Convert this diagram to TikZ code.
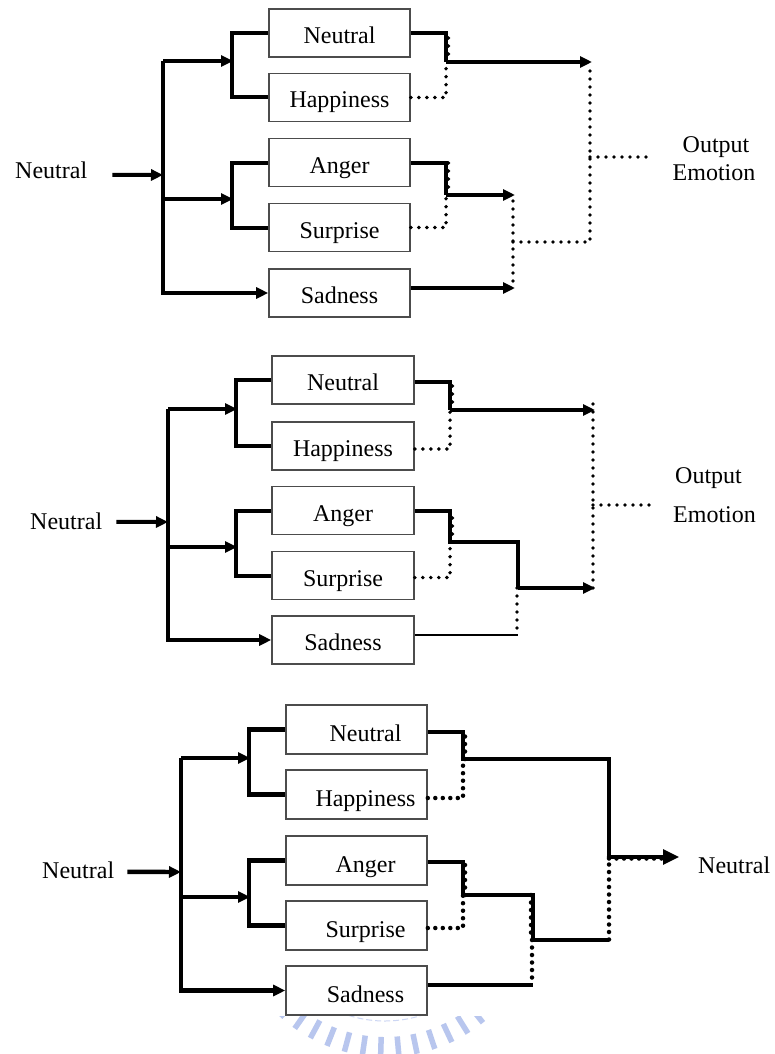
\documentclass[tikz,border=0pt]{standalone}
\usepackage{fontspec}
\setmainfont{Liberation Serif}
\usetikzlibrary{arrows.meta}
\definecolor{sealblue}{RGB}{112,140,222}
\begin{document}
\begin{tikzpicture}[x=1pt,y=-1pt,
  font=\fontsize{24}{28}\selectfont,
  emobox/.style={draw=black!70, line width=1.6pt, fill=white, minimum width=141pt,
    minimum height=48pt, inner sep=0pt, text height=21pt, text depth=0pt},
  emoboxc/.style={emobox, minimum height=49pt, text height=23pt,
    execute at begin node=\hspace*{18pt}},
  lbl/.style={inner sep=0pt},
  wire/.style={line width=4pt},
  wirethin/.style={line width=2.8pt},
  wirec/.style={line width=4.4pt},
  wirecthin/.style={line width=3.2pt},
  arr/.style={-{Triangle[length=12pt,width=11pt]}},
  arrbig/.style={-{Triangle[length=16pt,width=15pt]}},
  dotline/.style={line width=3.9pt, line cap=round, dash pattern=on 0pt off 8pt},
  dotlinec/.style={line width=4.5pt, line cap=round, dash pattern=on 0pt off 7.5pt},
]
\useasboundingbox (0,0) rectangle (774,1054);
\fill[white] (0,0) rectangle (774,1054);

% faint seal below the last diagram
\begin{scope}
  \clip (262,1016) rectangle (520,1054);
  \foreach \a in {38,44.7,...,142}
    \draw[sealblue!50, line width=5.5pt] (385,900) ++(\a:137) -- ++(\a:20);
  \draw[sealblue!35, line width=1pt, dash pattern=on 6pt off 3pt] (385,900) ++(62:121) arc[start angle=62,end angle=118,radius=121];
\end{scope}

% ================= first chain =================
\node[emobox] (n1) at (339.5,33) {Neutral};
\node[emobox] (h1) at (339.5,97.5) {Happiness};
\node[emobox] (a1) at (339.5,162.5) {Anger};
\node[emobox] (u1) at (339.5,227.5) {Surprise};
\node[emobox] (s1) at (339.5,293) {Sadness};
\node[lbl,anchor=base west] (i1) at (15,178) {Neutral};
\node[lbl,anchor=base] (oa1) at (716,152) {Output};
\node[lbl,anchor=base] (ob1) at (714,180) {Emotion};

\coordinate (e1) at (163,175);
\coordinate (p1) at (163,61);
\coordinate (q1) at (163,199);
\coordinate (k1) at (233,61);
\coordinate (m1) at (233,199);
\coordinate (c1) at (446,62);
\coordinate (o1) at (592,62);
\coordinate (d1) at (446,195);
\coordinate (f1) at (515,195);
\coordinate (g1) at (515,288);
\coordinate (r1) at (513,242);
\coordinate (t1) at (590,242);
\coordinate (v1) at (590,157);
\coordinate (w1) at (650,157);

\draw[wire,arr] ([xshift=25pt,yshift=-5pt]i1.east) -- (e1);
\draw[wire,arr] (p1) |- (s1.west);
\draw[wire,arr] (p1) -- (k1);
\draw[wire,arr] (q1) -- (m1);
\draw[wire] (n1.west) -- ++(-36,0) |- (h1.west);
\draw[wire] (a1.west) -- ++(-36,0) |- (u1.west);

\draw[wire] (n1.east) -| (c1);
\draw[wire,arr] (c1) -- (o1);
\draw[dotline] (h1.east) -| (c1);
\draw[dotline] ([xshift=2.5pt]c1) -- ([xshift=2.5pt]c1 |- n1.east);
\draw[wire] (a1.east) -| (d1);
\draw[wire,arr] (d1) -- (f1);
\draw[dotline] (u1.east) -| (d1);
\draw[dotline] ([xshift=2.5pt]d1) -- ([xshift=2.5pt]d1 |- a1.east);
\draw[wire,arr] ([yshift=5pt]s1.east) -- (g1);
\draw[dotline] ([xshift=-2pt,yshift=-6pt]f1) -- ([xshift=-2pt]g1);
\draw[dotline] (r1) -- (t1) -- ([xshift=-2pt,yshift=-6pt]o1);
\draw[dotline] (v1) -- (w1);

% ================= second chain =================
\node[emobox, minimum width=142pt] (n2) at (343,380) {Neutral};
\node[emobox, minimum width=142pt] (h2) at (343,446) {Happiness};
\node[emobox, minimum width=142pt] (a2) at (343,510.5) {Anger};
\node[emobox, minimum width=142pt] (u2) at (343,575.5) {Surprise};
\node[emobox, minimum width=142pt] (s2) at (343,640) {Sadness};
\node[lbl,anchor=base west] (i2) at (30,529) {Neutral};
\node[lbl,anchor=base west] (oa2) at (675,483) {Output};
\node[lbl,anchor=base west] (ob2) at (673,522) {Emotion};

\coordinate (e2) at (168,522);
\coordinate (p2) at (168,409);
\coordinate (q2) at (168,547);
\coordinate (k2) at (237,409);
\coordinate (m2) at (237,547);
\coordinate (c2) at (450,410);
\coordinate (o2) at (595,410);
\coordinate (d2) at (450,542);
\coordinate (x2) at (518,542);
\coordinate (y2) at (518,588);
\coordinate (f2) at (595,588);
\coordinate (g2) at (518,635);
\coordinate (v2) at (593,505);
\coordinate (w2) at (655,505);

\draw[wire,arr] ([xshift=14pt,yshift=-1pt]i2.east) -- (e2);
\draw[wire,arr] (p2) |- (s2.west);
\draw[wire,arr] (p2) -- (k2);
\draw[wire,arr] (q2) -- (m2);
\draw[wire] (n2.west) -- ++(-35,0) |- (h2.west);
\draw[wire] (a2.west) -- ++(-35,0) |- (u2.west);

\draw[wire] ([yshift=-2pt]n2.east) -| (c2);
\draw[wire,arr] (c2) -- (o2);
\draw[dotline] ([yshift=-3pt]h2.east) -| (c2);
\draw[dotline] ([xshift=2.5pt]c2) -- ([xshift=2.5pt,yshift=-2pt]c2 |- n2.east);
\draw[wire] (a2.east) -| (d2) -- (x2) -- (y2);
\draw[wire,arr] (y2) -- (f2);
\draw[dotline] ([yshift=-2pt]u2.east) -| (d2);
\draw[dotline] ([xshift=2.5pt]d2) -- ([xshift=2.5pt]d2 |- a2.east);
\draw[wirethin] ([yshift=5pt]s2.east) -- (g2);
\draw[dotline] ([xshift=-1pt]y2) -- ([xshift=-1pt]g2);
\draw[dotline] ([xshift=-2pt,yshift=6pt]o2) -- ([xshift=-2pt]f2);
\draw[dotline] (v2) -- (w2);

% ================= third chain =================
\node[emoboxc] (n3) at (356.5,729.5) {Neutral};
\node[emoboxc] (h3) at (356.5,794.5) {Happiness};
\node[emoboxc] (a3) at (356.5,860.5) {Anger};
\node[emoboxc] (u3) at (356.5,925.5) {Surprise};
\node[emoboxc] (s3) at (356.5,990.5) {Sadness};
\node[lbl,anchor=base west] (i3) at (42,878) {Neutral};
\node[lbl,anchor=base west] (r3) at (698,873) {Neutral};

\coordinate (e3) at (181,872);
\coordinate (p3) at (181,758);
\coordinate (q3) at (181,897);
\coordinate (k3) at (250,758);
\coordinate (m3) at (250,897);
\coordinate (c3) at (463,759);
\coordinate (o3) at (609,759);
\coordinate (d3) at (463,895);
\coordinate (x3) at (533,895);
\coordinate (y3) at (533,940);
\coordinate (z3) at (609,940);
\coordinate (g3) at (533,985);
\coordinate (t3) at (609,857);
\coordinate (f3) at (679,857);

\draw[wirec,arr] ([xshift=13pt,yshift=-2pt]i3.east) -- (e3);
\draw[wirec,arr] (p3) |- (s3.west);
\draw[wirec,arr] (p3) -- (k3);
\draw[wirec,arr] (q3) -- (m3);
\draw[wirec] (n3.west) -- ++(-36,0) |- (h3.west);
\draw[wirec] (a3.west) -- ++(-36,0) |- (u3.west);

\draw[wirecthin] ([yshift=-2.5pt]n3.east) -| (c3) -- (o3) -- (t3);
\draw[dotlinec] ([yshift=-3.5pt]h3.east) -| (c3);
\draw[dotlinec] ([xshift=2pt]c3) -- ([xshift=2pt,yshift=-2.5pt]c3 |- n3.east);
\draw[wirecthin] ([yshift=-1.5pt]a3.east) -| (d3) -- (x3) -- (y3) -- (z3);
\draw[dotlinec] ([yshift=-2.5pt]u3.east) -| (d3);
\draw[dotlinec] ([xshift=2pt]d3) -- ([xshift=2pt,yshift=-1.5pt]d3 |- a3.east);
\draw[dotlinec] ([xshift=-2pt]x3) -- ([xshift=-2pt]y3);
\draw[wirecthin] ([yshift=5.5pt]s3.east) -- (g3);
\draw[dotlinec] ([xshift=-1pt]y3) -- ([xshift=-1pt]g3);
\draw[dotlinec] (t3) -- (z3);
\draw[wirecthin,arrbig] (t3) -- (f3);
\draw[dotlinec] ([yshift=-1.5pt]t3) -- ([xshift=-15pt,yshift=-1.5pt]f3);
\end{tikzpicture}
\end{document}
